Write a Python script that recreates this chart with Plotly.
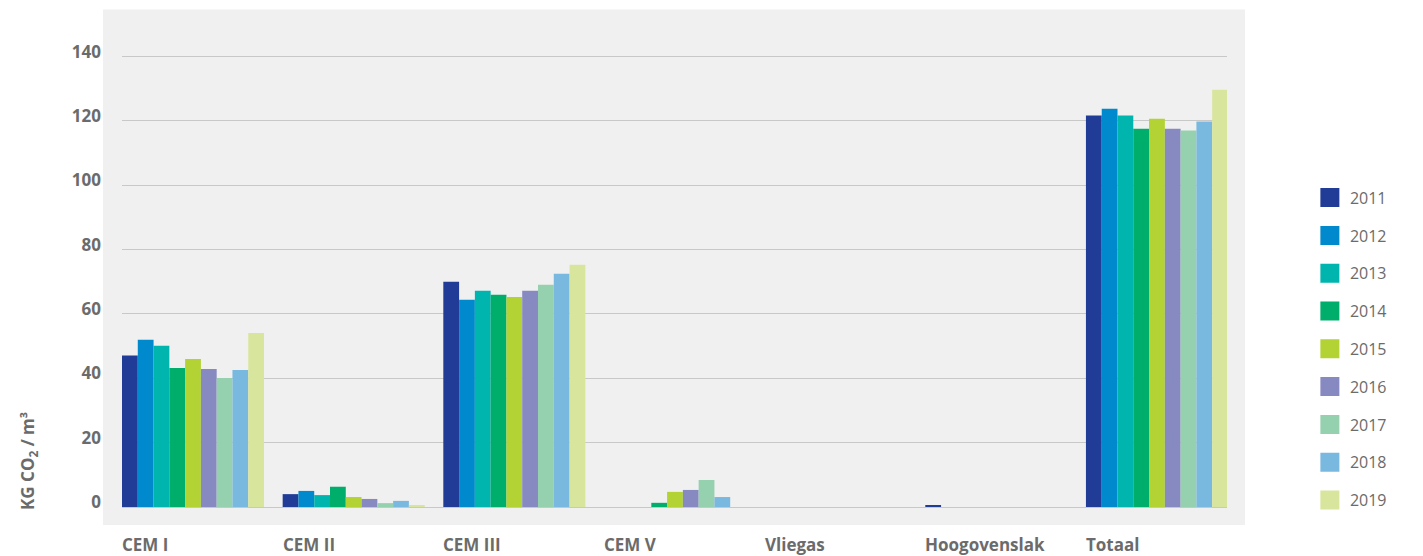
import plotly.graph_objects as go

categories = ["CEM I", "CEM II", "CEM III", "CEM V", "Vliegas", "Hoogovenslak", "Totaal"]
years = ["2011", "2012", "2013", "2014", "2015", "2016", "2017", "2018", "2019"]

v2011 = [47.1, 4.0, 70.0, 0.0, 0.0, 0.6, 121.7]
v2012 = [52.0, 5.0, 64.4, 0.0, 0.0, 0.0, 123.8]
v2013 = [50.1, 3.7, 67.2, 0.0, 0.0, 0.0, 121.7]
v2014 = [43.2, 6.3, 66.0, 1.3, 0.0, 0.0, 117.6]
v2015 = [46.0, 3.1, 65.3, 4.7, 0.0, 0.0, 120.7]
v2016 = [42.9, 2.5, 67.2, 5.3, 0.0, 0.0, 117.6]
v2017 = [40.1, 1.2, 69.1, 8.4, 0.0, 0.0, 117.0]
v2018 = [42.6, 1.9, 72.5, 3.1, 0.0, 0.0, 119.8]
v2019 = [54.1, 0.6, 75.3, 0.0, 0.0, 0.0, 129.7]
series = [v2011, v2012, v2013, v2014, v2015, v2016, v2017, v2018, v2019]

colors = ["#213C96", "#0089CC", "#00B5AD", "#00AE6C", "#B3D234",
          "#8789C1", "#95D1AE", "#7AB9DF", "#D8E59C"]

y_ticks = [0, 20, 40, 60, 80, 100, 120, 140]

TEXT = "#6b6b6b"
BG = "#F0F0F0"
GRID = "#c8c8c8"

fig = go.Figure()
for i, (yr, vals, col) in enumerate(zip(years, series, colors)):
    fig.add_trace(go.Bar(
        x=categories, y=vals, name=yr, marker=dict(color=col, line=dict(width=0)),
        showlegend=False,
    ))
# legend proxies (larger square symbols)
for yr, col in zip(years, colors):
    fig.add_trace(go.Scatter(
        x=[None], y=[None], mode="markers", name=yr, legendgroup=yr,
        marker=dict(symbol="square", size=16, color=col, line=dict(color=col, width=3)),
        showlegend=True,
    ))

half = (1 - 0.116) / 2
top_margin = 57 - 1.6
plot_h = 556 - 49 - top_margin
fig.update_layout(
    width=1423, height=556,
    margin=dict(l=122, r=196, t=top_margin, b=49),
    paper_bgcolor="white",
    plot_bgcolor=BG,
    barmode="group", bargap=0.116, bargroupgap=0,
    font=dict(family="Open Sans", color=TEXT),
    showlegend=True,
    legend=dict(
        x=1.075, xanchor="left", y=(507 - 181) / plot_h, yanchor="top",
        font=dict(size=16, color=TEXT, family="Open Sans"),
        tracegroupgap=14, bgcolor="rgba(0,0,0,0)",
    ),
    xaxis=dict(
        type="category", range=[-half, len(categories) - 1 + 0.436],
        showticklabels=False, showgrid=False, zeroline=False, showline=False,
        ticks="",
    ),
    yaxis=dict(
        range=[0, 140.5], tickvals=y_ticks, ticktext=[str(t) for t in y_ticks],
        showgrid=True, gridcolor=GRID, gridwidth=1.3,
        zeroline=True, zerolinecolor=GRID, zerolinewidth=1.3,
        showline=False, ticks="",
        tickfont=dict(size=17, color=TEXT, family="Open Sans", weight="bold"),
        ticklabelstandoff=20, ticklabelshift=-5,
    ),
    shapes=[dict(
        type="rect", xref="paper", yref="paper",
        x0=(103 - 122) / 1105, x1=(1245 - 122) / 1105,
        y0=(507 - 525) / plot_h, y1=(507 - 10) / plot_h,
        fillcolor=BG, line=dict(width=0), layer="below",
    )],
)

annotations = []
for i, c in enumerate(categories):
    annotations.append(dict(
        x=i - half, xref="x", y=0, yref="paper", yshift=-37, xshift=-2,
        text=c, showarrow=False, xanchor="left", yanchor="middle",
        font=dict(size=17, color=TEXT, family="Open Sans", weight="bold"),
    ))
annotations.append(dict(
    x=(29 - 122) / 1105, xref="paper", y=(507 - 461) / plot_h, yref="paper",
    text="KG CO<sub>2</sub> / m³", showarrow=False, textangle=-90,
    xanchor="center", yanchor="middle",
    font=dict(size=17, color=TEXT, family="Open Sans", weight="bold"),
))
fig.update_layout(annotations=annotations)

fig.write_html("out.html")
